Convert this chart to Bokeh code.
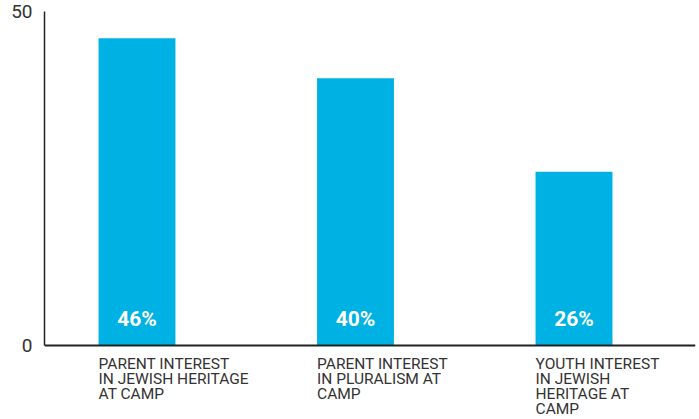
from bokeh.plotting import figure
from bokeh.models import ColumnDataSource, FixedTicker, Range1d, Span
from bokeh.core.properties import value
from bokeh.embed import file_html
from bokeh.resources import INLINE

categories = [
    "PARENT INTEREST\nIN JEWISH HERITAGE\nAT CAMP",
    "PARENT INTEREST\nIN PLURALISM AT\nCAMP",
    "YOUTH INTEREST\nIN JEWISH\nHERITAGE AT\nCAMP",
]
values = [46, 40, 26]
y_ticks = [0, 50]

BAR_W = 0.352
xs = list(range(len(categories)))
src = ColumnDataSource(dict(
    x=xs,
    left=[x - BAR_W / 2 for x in xs],
    top=values,
    zero=[0] * len(values),
    label=[f"{v}%" for v in values],
    cat=categories,
))

p = figure(width=699, height=419, output_backend="svg", toolbar_location=None,
           x_range=Range1d(-0.4233, 2.556), y_range=Range1d(-11.08, 50),
           x_axis_location=None,
           min_border_left=44, min_border_right=4, min_border_top=11,
           min_border_bottom=0)
p.outline_line_color = None
p.grid.visible = False
p.background_fill_color = "white"

p.vbar(x="x", top="top", width=BAR_W, bottom=0, source=src,
       fill_color="#00B2E3", line_color=None)

# baseline
p.add_layout(Span(location=0, dimension="width", line_color="#222222",
                  line_width=2))

p.text(x="x", y="zero", text="label", source=src, y_offset=-26,
       text_align="center", text_baseline="middle", text_color="white",
       text_font=value("Roboto"), text_font_style="bold", text_font_size="21px")

# category labels, left-aligned under each bar's left edge
p.text(x="left", y="zero", text="cat", source=src, y_offset=10,
       text_align="left", text_baseline="top", text_color="#333333",
       text_font=value("Roboto"), text_font_size="15.5px", text_line_height=0.82)

ya = p.yaxis[0]
ya.ticker = FixedTicker(ticks=y_ticks)
ya.bounds = (0, 50)
ya.major_label_text_font = "Roboto"
ya.major_label_text_font_size = "19px"
ya.major_label_text_color = "#333333"
ya.major_label_standoff = 6
ya.major_tick_line_color = None
ya.minor_tick_line_color = None
ya.axis_line_color = "#222222"
ya.axis_line_width = 1.5

open("out.html", "w").write(file_html(p, INLINE))
